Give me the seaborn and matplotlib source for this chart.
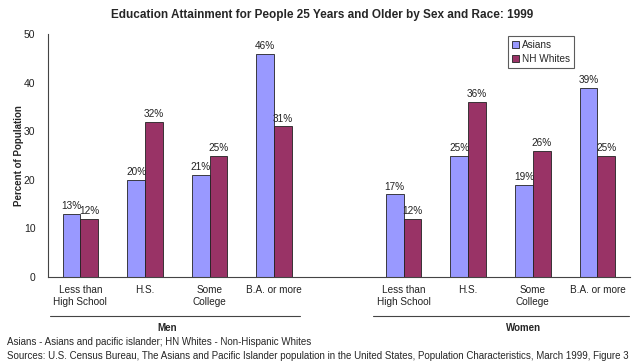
import matplotlib
matplotlib.use("Agg")
import matplotlib.pyplot as plt
import seaborn as sns
import pandas as pd
from matplotlib.lines import Line2D

# --- data ---
levels = ["Less than\nHigh School", "H.S.", "Some\nCollege", "B.A. or more"]
sexes = ["Men", "Women"]
asians_men = [13, 20, 21, 46]
whites_men = [12, 32, 25, 31]
asians_women = [17, 25, 19, 39]
whites_women = [12, 36, 26, 25]
races = ["Asians", "NH Whites"]

rows = []
for sex, a_vals, w_vals in [("Men", asians_men, whites_men), ("Women", asians_women, whites_women)]:
    for i, lev in enumerate(levels):
        key = f"{sex}{i}"
        rows.append({"slot": key, "race": "Asians", "pct": a_vals[i]})
        rows.append({"slot": key, "race": "NH Whites", "pct": w_vals[i]})
df = pd.DataFrame(rows)

# empty slot between the two sexes
order = [f"Men{i}" for i in range(4)] + ["gap"] + [f"Women{i}" for i in range(4)]
tick_labels = levels + [""] + levels

sns.set_style("white")
plt.rcParams["font.family"] = ["Liberation Sans", "DejaVu Sans"]

fig = plt.figure(figsize=(6.4, 3.63), dpi=100)
ax = fig.add_axes([0.075, 0.237, 0.909, 0.669])

sns.barplot(
    data=df, x="slot", y="pct", hue="race", order=order, hue_order=races,
    palette={"Asians": "#9999FF", "NH Whites": "#993366"},
    width=0.55, gap=0, edgecolor="#222222", linewidth=0.6,
    saturation=1, ax=ax,
)

for cont in ax.containers:
    ax.bar_label(cont, fmt="%g%%", fontsize=7.2, color="#222222", padding=2)

ax.set_ylim(0, 50)
ax.set_yticks(range(0, 51, 10))
ax.set_xlim(-0.5, 8.5)
ax.set_xticks(range(len(order)))
ax.set_xticklabels(tick_labels, fontsize=7.2, color="#222222")
ax.tick_params(axis="y", labelsize=7.5, colors="#222222", length=0, pad=9)
ax.tick_params(axis="x", length=0, pad=6)
ax.set_xlabel("")
ax.set_ylabel("Percent of Population", fontsize=7, fontweight="bold", labelpad=0)

sns.despine(ax=ax, top=True, right=True)
for s in ["left", "bottom"]:
    ax.spines[s].set_color("#444444")
    ax.spines[s].set_linewidth(0.8)

leg = ax.legend(
    loc="upper right", bbox_to_anchor=(0.912, 1.012), fontsize=7.2, frameon=True,
    fancybox=False, edgecolor="#333333", handlelength=0.7, handleheight=0.7,
    handletextpad=0.3, borderpad=0.4, labelspacing=0.35,
)
leg.get_frame().set_linewidth(0.8)

fig.suptitle("Education Attainment for People 25 Years and Older by Sex and Race: 1999",
             x=0.503, y=0.975, fontsize=8.5, fontweight="bold")

# group brackets under the categories
for x0, x1, xc, name in [(50, 300, 167, "Men"), (373, 629, 524, "Women")]:
    fig.add_artist(Line2D([x0 / 640, x1 / 640], [1 - 316 / 363] * 2,
                          color="#444444", linewidth=0.8))
    fig.text(xc / 640, 1 - 328 / 363, name, ha="center", va="center",
             fontsize=7, fontweight="bold")

fig.text(7 / 640, 1 - 342 / 363, "Asians - Asians and pacific islander; HN Whites - Non-Hispanic Whites",
         ha="left", va="center", fontsize=7)
fig.text(7 / 640, 1 - 356 / 363,
         "Sources: U.S. Census Bureau, The Asians and Pacific Islander population in the United States, "
         "Population Characteristics, March 1999, Figure 3",
         ha="left", va="center", fontsize=7)

fig.savefig("out.png", dpi=100)
